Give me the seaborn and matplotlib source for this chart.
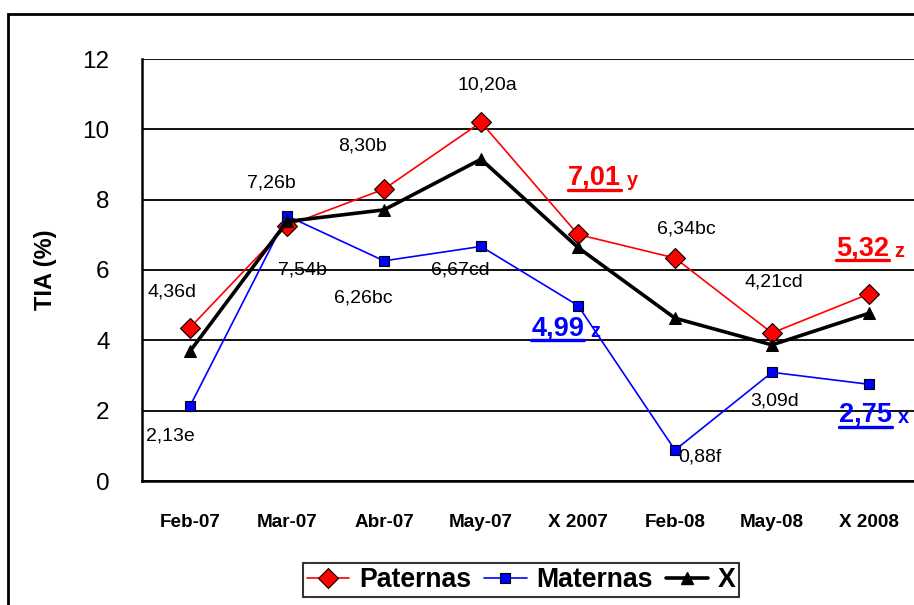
import matplotlib
matplotlib.use("Agg")
import matplotlib.pyplot as plt
import numpy as np
import pandas as pd
import seaborn as sns
from matplotlib import font_manager
from matplotlib.lines import Line2D
from matplotlib.patches import Rectangle

# data
categories = ["Feb-07", "Mar-07", "Abr-07", "May-07", "X 2007", "Feb-08", "May-08", "X 2008"]
paternas = [4.36, 7.26, 8.30, 10.20, 7.01, 6.34, 4.21, 5.32]
maternas = [2.13, 7.54, 6.26, 6.67, 4.99, 0.88, 3.09, 2.75]
media_x = [3.69, 7.38, 7.71, 9.15, 6.64, 4.63, 3.87, 4.77]
pat_letters = ["d", "b", "b", "a", "y", "bc", "cd", "z"]
mat_letters = ["e", "b", "bc", "cd", "z", "f", "d", "x"]
series_names = ["Paternas", "Maternas", "X"]
y_ticks = [0, 2, 4, 6, 8, 10, 12]

# label positions (category index, y value)
pat_label_pos = [(-0.19, 5.37), (0.84, 8.47), (1.78, 9.53), (3.07, 11.26),
                 (4.17, 8.62), (5.12, 7.17), (6.02, 5.66), (6.93, 6.62)]
mat_label_pos = [(-0.20, 1.28), (1.16, 6.00), (1.79, 5.20), (2.79, 5.99),
                 (3.79, 4.35), (5.26, 0.68), (6.03, 2.27), (6.96, 1.88)]
highlight = [4, 7]  # mean columns, drawn bold + underlined

names = {f.name for f in font_manager.fontManager.ttflist}
FONT = "Liberation Sans Narrow" if "Liberation Sans Narrow" in names else "Liberation Sans"
scale = 1.0 if FONT == "Liberation Sans Narrow" else 0.85

sns.set_style("white")
plt.rcParams["font.family"] = [FONT, "DejaVu Sans"]
plt.rcParams["text.color"] = "black"
plt.rcParams["axes.labelcolor"] = "black"
plt.rcParams["xtick.color"] = "black"
plt.rcParams["ytick.color"] = "black"

fig = plt.figure(figsize=(9.14, 6.05), dpi=100)
ax = fig.add_axes([141.5 / 914, 124 / 605, 776 / 914, 422 / 605])

x = np.arange(len(categories))
df = pd.DataFrame({"x": x, "Paternas": paternas, "Maternas": maternas, "X": media_x})

sns.lineplot(data=df, x="x", y="Paternas", ax=ax, color="#ff0000", linewidth=1.2,
             marker="D", markersize=10, markerfacecolor="#ff0000",
             markeredgecolor="black", markeredgewidth=0.8, zorder=4)
sns.lineplot(data=df, x="x", y="Maternas", ax=ax, color="#0000ff", linewidth=1.2,
             marker="s", markersize=7, markerfacecolor="#0000ff",
             markeredgecolor="black", markeredgewidth=0.8, zorder=4)
sns.lineplot(data=df, x="x", y="X", ax=ax, color="black", linewidth=2.6,
             marker="^", markersize=8.5, markeredgecolor="black", zorder=5)

ax.set_xlim(-0.5, len(categories) - 0.5)
ax.set_ylim(0, 12)
ax.set_yticks(y_ticks)
ax.set_yticklabels([str(t) for t in y_ticks], fontsize=20.5 * scale)
ax.yaxis.grid(True, color="#111111", linewidth=1.4)
ax.set_axisbelow(True)

# ticks between categories, labels at the centres
ax.set_xticks(np.arange(-0.5, len(categories)), minor=False)
ax.set_xticklabels([])
ax.set_xticks(x, minor=True)
ax.set_xticklabels(categories, minor=True, fontsize=16 * scale, fontweight="bold")
ax.tick_params(axis="x", which="major", direction="out", length=8, width=1.4, color="black")
ax.tick_params(axis="x", which="minor", length=0, pad=24)
ax.tick_params(axis="y", direction="out", length=8, width=1.4, color="black", pad=15)

for side in ["top", "right"]:
    ax.spines[side].set_visible(False)
for side in ["left", "bottom"]:
    ax.spines[side].set_color("black")
    ax.spines[side].set_linewidth(1.8)

ax.set_xlabel("")
ax.set_ylabel("TIA (%)", fontsize=20 * scale, fontweight="bold", labelpad=18)

# data labels
big = []
for i in range(len(categories)):
    for vals, lets, pos, col in [(paternas, pat_letters, pat_label_pos, "#ff0000"),
                                 (maternas, mat_letters, mat_label_pos, "#0000ff")]:
        num = f"{vals[i]:.2f}".replace(".", ",")
        px, py = pos[i]
        if i in highlight:
            t = ax.text(px, py, num, ha="center", va="center", color=col,
                        fontsize=23 * scale, fontweight="bold")
            big.append((t, lets[i], col))
        else:
            ax.text(px, py, num + lets[i], ha="center", va="center", color="black",
                    fontsize=16.5 * scale)

fig.canvas.draw()
renderer = fig.canvas.get_renderer()
inv = fig.transFigure.inverted()
for t, letter, col in big:
    bb = t.get_window_extent(renderer)
    (x0, y0), (x1, y1) = inv.transform([(bb.x0, bb.y0), (bb.x1, bb.y1)])
    fig.add_artist(Line2D([x0, x1], [y0 + 0.002, y0 + 0.002], color=col, linewidth=2.4))
    fig.text(x1 + 6 / 914, (y0 + y1) / 2 - 3 / 605, letter, color=col,
             fontsize=17 * scale, fontweight="bold", ha="left", va="center")

# legend
handles = [
    Line2D([], [], color="#ff0000", linewidth=1.2, marker="D", markersize=10,
           markerfacecolor="#ff0000", markeredgecolor="black", markeredgewidth=0.8),
    Line2D([], [], color="#0000ff", linewidth=1.2, marker="s", markersize=7,
           markerfacecolor="#0000ff", markeredgecolor="black", markeredgewidth=0.8),
    Line2D([], [], color="black", linewidth=2.6, marker="^", markersize=8.5),
]
leg = fig.legend(handles, series_names, loc="upper left",
                 bbox_to_anchor=(303 / 914, 1 - 563 / 605), ncol=3, frameon=True,
                 fancybox=False, borderpad=0.15, handlelength=1.6, handletextpad=0.35,
                 columnspacing=0.5, borderaxespad=0,
                 prop={"family": [FONT, "DejaVu Sans"], "weight": "bold", "size": 22.5 * scale})
leg.get_frame().set_edgecolor("black")
leg.get_frame().set_linewidth(1.5)

# outer chart frame
fig.add_artist(Rectangle((8 / 914, -0.1), 1.2, 1 - 14 / 605 + 0.1, transform=fig.transFigure,
                         fill=False, edgecolor="black", linewidth=2, clip_on=False))

fig.savefig("out.png", dpi=100)
